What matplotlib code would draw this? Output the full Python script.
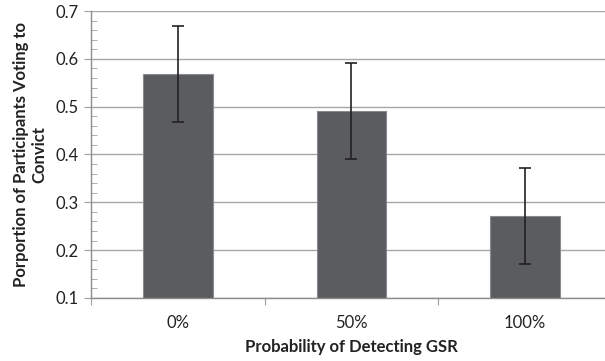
import matplotlib.pyplot as plt
from matplotlib.ticker import MultipleLocator

categories = ['0%', '50%', '100%']
proportions = [0.568, 0.491, 0.271]
errors = [0.1, 0.1, 0.1]

plt.rcParams['font.family'] = ['Lato', 'DejaVu Sans']

fig = plt.figure(figsize=(6.05, 3.61), dpi=100)
ax = fig.add_axes([91.2/605, 63/361, 520.5/605, 287/361])

x = list(range(len(categories)))
ax.bar(x, proportions, width=0.4, bottom=0, color='#5b5c60', edgecolor='#8a8b8e',
       linewidth=0.8, zorder=2)
ax.errorbar(x, proportions, yerr=errors, fmt='none', ecolor='#222222',
            elinewidth=1.2, capsize=4, capthick=1.2, zorder=3)

ax.set_xlim(-0.5, 2.5)
ax.set_ylim(0.1, 0.7)
ax.yaxis.set_minor_locator(MultipleLocator(0.02))
ax.set_yticks([0.1, 0.2, 0.3, 0.4, 0.5, 0.6, 0.7])
ax.set_yticklabels(['0.1', '0.2', '0.3', '0.4', '0.5', '0.6', '0.7'])
ax.grid(axis='y', which='major', color='#a6a6a6', linewidth=1.0, zorder=0)

# category labels centred, ticks on category boundaries
ax.set_xticks([-0.5, 0.5, 1.5])
ax.set_xticklabels([])
ax.set_xticks(x, minor=True)
ax.set_xticklabels(categories, minor=True, fontsize=12, color='#222222')
ax.tick_params(axis='x', which='major', direction='out', length=5, color='#a0a0a0')
ax.tick_params(axis='x', which='minor', length=0, pad=12)
ax.tick_params(axis='y', which='major', direction='out', length=5, color='#a0a0a0',
               labelsize=12, labelcolor='#222222', pad=4)
ax.tick_params(axis='y', which='minor', direction='in', length=4, color='#a0a0a0')

for s in ['top', 'right']:
    ax.spines[s].set_visible(False)
for s in ['left', 'bottom']:
    ax.spines[s].set_color('#8c8c8c')
    ax.spines[s].set_linewidth(1.0)

ax.set_xlabel('Probability of Detecting GSR', fontsize=12, fontweight='bold',
              color='#222222', labelpad=6)
ax.set_ylabel('Porportion of Participants Voting to\nConvict', fontsize=12,
              fontweight='bold', color='#222222', labelpad=6, linespacing=1.15)

fig.savefig('out.png', dpi=100)
